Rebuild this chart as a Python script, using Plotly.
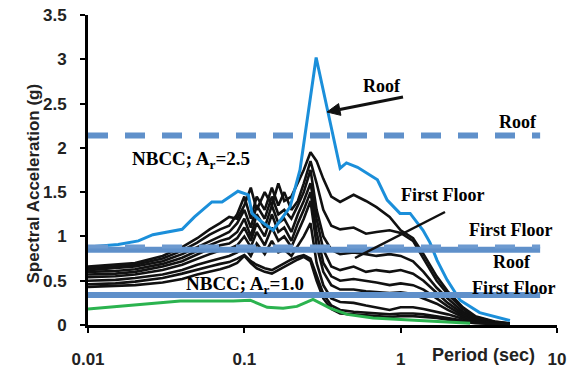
import plotly.graph_objects as go

# ---- data ----
roof_T = [0.01, 0.0156, 0.021, 0.026, 0.04, 0.048, 0.062, 0.072, 0.091, 0.106, 0.112, 0.126, 0.153,
          0.196, 0.227, 0.288, 0.41, 0.45, 0.53, 0.71, 0.82, 0.99, 1.15, 1.39, 1.54, 1.71, 1.98, 2.4, 3.2, 5.0]
roof_Sa = [0.88, 0.91, 0.95, 1.02, 1.08, 1.22, 1.39, 1.39, 1.51, 1.47, 1.26, 1.18, 1.07,
           1.33, 1.75, 3.02, 1.77, 1.83, 1.78, 1.64, 1.41, 1.26, 1.26, 1.07, 0.93, 0.73, 0.51, 0.28, 0.14, 0.05]

first_T = [0.01, 0.02, 0.039, 0.085, 0.109, 0.14, 0.177, 0.217, 0.275, 0.353, 0.454, 0.666, 1.33, 2.78]
first_Sa = [0.18, 0.23, 0.27, 0.27, 0.28, 0.20, 0.19, 0.21, 0.29, 0.19, 0.12, 0.08, 0.05, 0.02]

floor_T = [0.01, 0.015, 0.02, 0.03, 0.04, 0.05, 0.06, 0.07, 0.08, 0.09, 0.1, 0.11, 0.12, 0.135, 0.15,
           0.165, 0.18, 0.2, 0.22, 0.24, 0.265, 0.29, 0.32, 0.36, 0.41, 0.5, 0.6, 0.7, 0.85, 1.0,
           1.2, 1.4, 1.7, 2.0, 2.5, 3.0, 4.0, 5.0]
floor_A = [0.66, 0.68, 0.70, 0.78, 0.88, 0.98, 1.08, 1.15, 1.22, 1.20, 1.35, 1.55, 1.30, 1.50, 1.35, 1.60, 1.40, 1.45,
           1.60, 1.75, 1.95, 1.85, 1.65, 1.45, 1.39, 1.47, 1.40, 1.33, 1.22, 1.07, 0.98, 0.80, 0.55, 0.38, 0.20, 0.10, 0.04, 0.02]
floor_B = [0.64, 0.66, 0.68, 0.75, 0.84, 0.93, 1.02, 1.08, 1.12, 1.25, 1.45, 1.20, 1.45, 1.30, 1.55, 1.35, 1.50, 1.30,
           1.40, 1.60, 1.85, 1.60, 1.30, 1.12, 1.08, 1.10, 1.03, 1.05, 1.07, 1.04, 0.95, 0.75, 0.50, 0.35, 0.18, 0.09, 0.035, 0.015]
floor_C = [0.62, 0.64, 0.66, 0.72, 0.80, 0.88, 0.95, 1.00, 1.05, 1.15, 1.30, 1.10, 1.35, 1.20, 1.45, 1.25, 1.30, 1.20,
           1.35, 1.50, 1.75, 1.30, 1.00, 0.85, 0.80, 0.82, 0.80, 0.78, 0.80, 0.78, 0.72, 0.60, 0.42, 0.30, 0.15, 0.08, 0.03, 0.01]
floor_D = [0.60, 0.61, 0.63, 0.69, 0.76, 0.84, 0.90, 0.95, 0.98, 1.05, 1.20, 1.00, 1.25, 1.10, 1.35, 1.15, 1.20, 1.05,
           1.25, 1.40, 1.60, 1.20, 0.85, 0.66, 0.62, 0.66, 0.60, 0.62, 0.60, 0.62, 0.58, 0.50, 0.36, 0.25, 0.13, 0.07, 0.025, 0.01]
floor_E = [0.57, 0.58, 0.60, 0.66, 0.72, 0.80, 0.86, 0.90, 0.92, 0.98, 1.10, 0.95, 1.15, 1.00, 1.25, 1.05, 1.10, 0.95,
           1.15, 1.30, 1.50, 1.05, 0.70, 0.55, 0.50, 0.52, 0.50, 0.48, 0.45, 0.47, 0.45, 0.40, 0.30, 0.21, 0.11, 0.06, 0.02, 0.01]
floor_F = [0.54, 0.55, 0.57, 0.62, 0.68, 0.75, 0.80, 0.84, 0.86, 0.90, 1.00, 0.88, 1.05, 0.90, 1.10, 0.95, 1.00, 0.88,
           1.05, 1.20, 1.40, 0.90, 0.60, 0.45, 0.40, 0.40, 0.38, 0.37, 0.36, 0.37, 0.35, 0.30, 0.24, 0.17, 0.09, 0.05, 0.02, 0.01]
floor_G = [0.50, 0.51, 0.53, 0.57, 0.62, 0.68, 0.72, 0.75, 0.78, 0.82, 0.88, 0.78, 0.92, 0.80, 0.95, 0.82, 0.85, 0.78,
           0.90, 1.00, 1.15, 0.70, 0.45, 0.30, 0.26, 0.25, 0.22, 0.20, 0.17, 0.20, 0.20, 0.18, 0.15, 0.12, 0.07, 0.04, 0.015, 0.01]
floor_H = [0.46, 0.47, 0.49, 0.53, 0.58, 0.62, 0.66, 0.69, 0.71, 0.75, 0.79, 0.72, 0.68, 0.64, 0.62, 0.66, 0.70, 0.74,
           0.77, 0.79, 0.75, 0.55, 0.35, 0.22, 0.17, 0.15, 0.14, 0.13, 0.12, 0.13, 0.13, 0.12, 0.10, 0.08, 0.05, 0.03, 0.01, 0.005]
floor_I = [0.43, 0.44, 0.45, 0.48, 0.52, 0.57, 0.60, 0.63, 0.66, 0.70, 0.78, 0.70, 0.64, 0.60, 0.58, 0.62, 0.66, 0.70,
           0.74, 0.77, 0.72, 0.50, 0.30, 0.18, 0.13, 0.12, 0.11, 0.10, 0.09, 0.10, 0.10, 0.09, 0.08, 0.06, 0.04, 0.02, 0.01, 0.005]
floors = [floor_A, floor_B, floor_C, floor_D, floor_E, floor_F, floor_G, floor_H, floor_I]

# NBCC design levels
nbcc_T = [0.01, 7.8]
nbcc_roof_25 = 2.14
nbcc_first_25 = 0.885
nbcc_roof_10 = 0.85
nbcc_first_10 = 0.34

x_tickvals = [0.01, 0.1, 1, 10]
x_ticktext = ["0.01", "0.1", "1", "10"]

LINE_BLUE = "#5f90ca"
ROOF_BLUE = "#1b8fda"
GREEN = "#2bb34f"

W, H = 569, 375
ML, MR, MT, MB = 88, 12, 15, 50
PW, PH = W - ML - MR, H - MT - MB


def px(xpix, ypix):
    """pixel position -> paper coordinates (for annotation layout only)"""
    return (xpix - ML) / PW, (H - MB - ypix) / PH


fig = go.Figure()
for f in floors:
    fig.add_trace(go.Scatter(x=floor_T, y=f, mode="lines",
                             line=dict(color="#111111", width=2.6), showlegend=False))
fig.add_trace(go.Scatter(x=first_T, y=first_Sa, mode="lines",
                         line=dict(color=GREEN, width=3), showlegend=False))
fig.add_trace(go.Scatter(x=roof_T, y=roof_Sa, mode="lines",
                         line=dict(color=ROOF_BLUE, width=3), showlegend=False))
fig.add_trace(go.Scatter(x=nbcc_T, y=[nbcc_roof_25] * 2, mode="lines",
                         line=dict(color=LINE_BLUE, width=6, dash="20px,17px"), showlegend=False))
fig.add_trace(go.Scatter(x=nbcc_T, y=[nbcc_roof_10] * 2, mode="lines",
                         line=dict(color=LINE_BLUE, width=6), showlegend=False))
fig.add_trace(go.Scatter(x=nbcc_T, y=[nbcc_first_25] * 2, mode="lines",
                         line=dict(color="#6d9ad0", width=4, dash="20px,17px"), showlegend=False))
fig.add_trace(go.Scatter(x=nbcc_T, y=[nbcc_first_10] * 2, mode="lines",
                         line=dict(color=LINE_BLUE, width=6), showlegend=False))

serif = dict(family="Liberation Serif", size=18, color="black")
sans = dict(family="Liberation Sans", size=18, color="#222222")


def txt(s, xpix, ypix, font=serif):
    xp, yp = px(xpix, ypix)
    fig.add_annotation(text="<b>" + s + "</b>", x=xp, y=yp, xref="paper", yref="paper",
                       showarrow=False, font=font, xanchor="center", yanchor="middle")


txt("NBCC; A<sub>r</sub>=2.5", 191, 160, dict(serif, size=19))
txt("NBCC; A<sub>r</sub>=1.0", 245, 285, dict(serif, size=19))
txt("Roof", 382, 86)
txt("Roof", 518, 122)
txt("First Floor", 442, 195)
txt("First Floor", 510, 230)
txt("Roof", 512, 262)
txt("First Floor", 513, 288)
txt("Period (sec)", 483, 355, sans)
yx, yy = px(21, 184)
fig.add_annotation(text="<b>Spectral Acceleration (g)</b>", x=yx, y=yy, xref="paper", yref="paper",
                   showarrow=False, textangle=-90, font=dict(family="Liberation Sans", size=17, color="#222222"))

# arrow to roof peak (shape line + triangular head)
tail = (403, 97)
head = (327, 112)
dx, dy = head[0] - tail[0], head[1] - tail[1]
L = (dx ** 2 + dy ** 2) ** 0.5
ux, uy = dx / L, dy / L
hl, hw = 13, 6
bx, by = head[0] - ux * hl, head[1] - uy * hl
c1 = (bx + uy * hw, by - ux * hw)
c2 = (bx - uy * hw, by + ux * hw)
t0 = px(*tail)
b0 = px(bx, by)
fig.add_shape(type="line", xref="paper", yref="paper", x0=t0[0], y0=t0[1], x1=b0[0], y1=b0[1],
              line=dict(color="#111111", width=3))
p_h, p_1, p_2 = px(*head), px(*c1), px(*c2)
fig.add_shape(type="path", xref="paper", yref="paper",
              path=f"M {p_h[0]} {p_h[1]} L {p_1[0]} {p_1[1]} L {p_2[0]} {p_2[1]} Z",
              fillcolor="#111111", line=dict(color="#111111", width=1))
# pointer line for first floor
q0, q1 = px(445, 212), px(355, 258)
fig.add_shape(type="line", xref="paper", yref="paper", x0=q0[0], y0=q0[1], x1=q1[0], y1=q1[1],
              line=dict(color="#111111", width=2.5))

tickfont = dict(family="Liberation Sans", size=17, color="#222222", weight="bold")
fig.update_xaxes(type="log", range=[-2, 1], tickvals=x_tickvals, ticktext=x_ticktext,
                 showgrid=False, zeroline=False, showline=True, linecolor="black", linewidth=3,
                 ticks="outside", ticklen=5, tickwidth=2, tickcolor="black",
                 ticklabelstandoff=12, automargin=False, tickfont=tickfont)
fig.update_yaxes(range=[0, 3.5], dtick=0.5, showgrid=False, zeroline=False, showline=True,
                 linecolor="black", linewidth=3, ticks="outside", ticklen=5, tickwidth=2, tickcolor="black",
                 ticklabelstandoff=10, automargin=False, tickfont=tickfont)
fig.update_layout(width=W, height=H, margin=dict(l=ML, r=MR, t=MT, b=MB, autoexpand=False),
                  plot_bgcolor="white", paper_bgcolor="white")
fig.write_html("out.html")
